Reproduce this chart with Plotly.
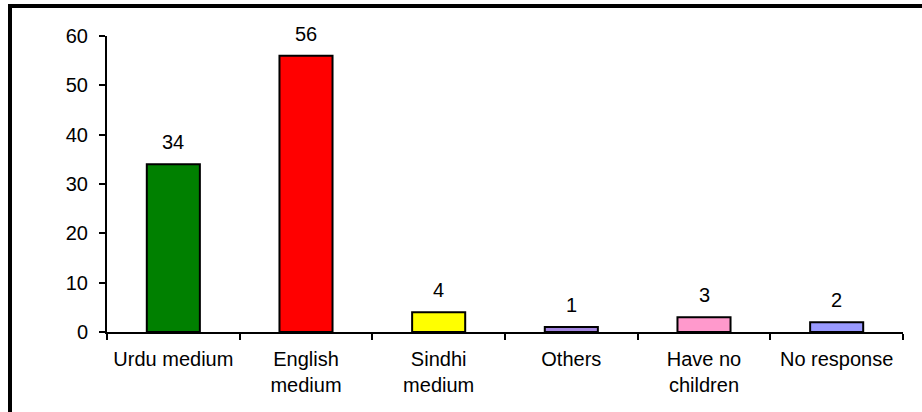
import plotly.graph_objects as go

categories = ["Urdu medium", "English<br>medium", "Sindhi<br>medium", "Others", "Have no<br>children", "No response"]
values = [34, 56, 4, 1, 3, 2]
colors = ["#008000", "#FF0000", "#FFFF00", "#A385E0", "#FF99CC", "#9999FF"]
y_ticks = [0, 10, 20, 30, 40, 50, 60]

FONT = "Liberation Sans, Arial, sans-serif"
FS = 20

fig = go.Figure()
fig.add_trace(go.Bar(
    x=categories, y=values,
    marker=dict(color=colors, line=dict(color="black", width=2)),
    width=0.4,
    hoverinfo="skip",
))

for c, v in zip(categories, values):
    fig.add_annotation(x=c, y=v, text=str(v), showarrow=False,
                       yanchor="bottom", yshift=9,
                       font=dict(family=FONT, size=FS, color="black"))

L, R, T, B = 107, 903, 36, 332
W, H = 922, 412
pw, ph = R - L, B - T

def px(x):
    return (x - L) / pw

def py(y):
    return (B - y) / ph

# outer frame (top and left edges visible)
fig.add_shape(type="line", xref="paper", yref="paper",
              x0=px(8), x1=px(930), y0=py(6), y1=py(6),
              line=dict(color="black", width=4))
fig.add_shape(type="line", xref="paper", yref="paper",
              x0=px(10), x1=px(10), y0=py(4), y1=py(420),
              line=dict(color="black", width=4))

fig.update_layout(
    width=W, height=H,
    margin=dict(l=L, r=W - R, t=T, b=H - B),
    paper_bgcolor="white", plot_bgcolor="white",
    showlegend=False,
    font=dict(family=FONT, size=FS, color="black"),
    xaxis=dict(
        showline=True, linecolor="black", linewidth=2,
        ticks="outside", tickson="boundaries", ticklen=6, tickwidth=2, tickcolor="black",
        showgrid=False, zeroline=False,
        tickfont=dict(family=FONT, size=FS, color="black"),
        ticklabelstandoff=8,
        fixedrange=True,
    ),
    yaxis=dict(
        range=[0, 60], tickvals=y_ticks,
        showline=True, linecolor="black", linewidth=2,
        ticks="outside", ticklen=6, tickwidth=2, tickcolor="black",
        showgrid=False, zeroline=False,
        tickfont=dict(family=FONT, size=FS, color="black"),
        ticklabelstandoff=7,
        fixedrange=True,
    ),
)

fig.write_html("out.html", config={"displayModeBar": False},
               post_script="document.body.style.margin='0';")
